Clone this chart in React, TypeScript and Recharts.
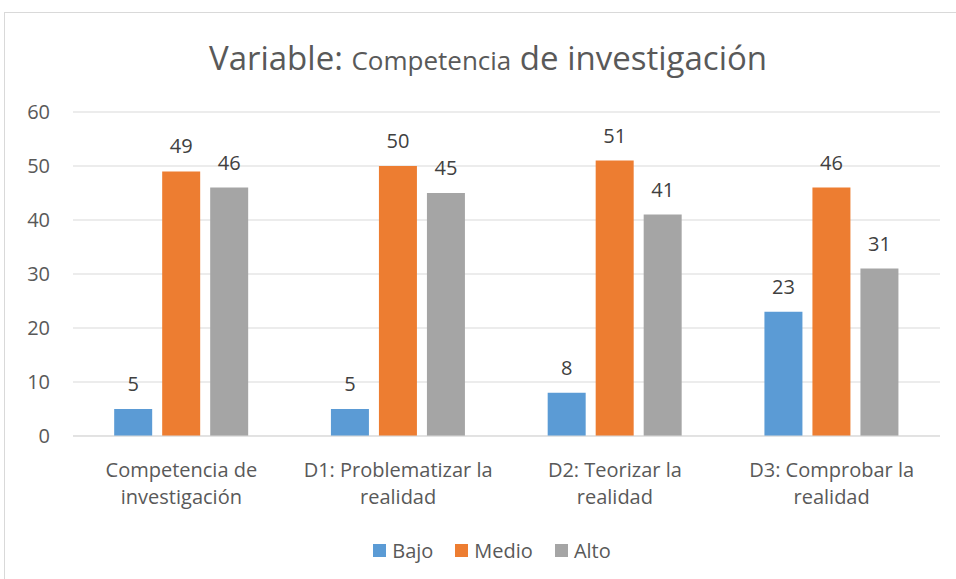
import React from "react";
import { BarChart, Bar, XAxis, YAxis, CartesianGrid, Legend, LabelList } from "recharts";

const categories = [
  ["Competencia de", "investigación"],
  ["D1: Problematizar la", "realidad"],
  ["D2: Teorizar la", "realidad"],
  ["D3: Comprobar la", "realidad"],
];
const bajo = [5, 5, 8, 23];
const medio = [49, 50, 51, 46];
const alto = [46, 45, 41, 31];
const yTicks = [0, 10, 20, 30, 40, 50, 60];
const seriesNames = ["Bajo", "Medio", "Alto"];
const seriesColors = ["#5B9BD5", "#ED7D31", "#A5A5A5"];

const data = categories.map((c, i) => ({
  name: c.join(" "),
  Bajo: bajo[i],
  Medio: medio[i],
  Alto: alto[i],
}));

const FONT = '"Open Sans", sans-serif';

function CategoryTick(props: any) {
  const { x, y, payload, index } = props;
  const lines = categories[index] ?? [payload.value];
  return (
    <text x={x} y={y} textAnchor="middle" fill="#595959" fontSize={20} fontFamily={FONT}>
      {lines.map((l: string, i: number) => (
        <tspan key={i} x={x} dy={i === 0 ? 33 : 27}>
          {l}
        </tspan>
      ))}
    </text>
  );
}

function LegendContent() {
  return (
    <div style={{ display: "flex", justifyContent: "center", gap: 22, height: 24, alignItems: "center", paddingLeft: 44 }}>
      {seriesNames.map((n, i) => (
        <span key={n} style={{ display: "flex", alignItems: "center", gap: 6, fontFamily: FONT, fontSize: 20, color: "#595959" }}>
          <span style={{ width: 13, height: 13, background: seriesColors[i], display: "inline-block" }} />
          {n}
        </span>
      ))}
    </div>
  );
}

export default function App() {
  return (
    <div style={{ position: "absolute", left: 0, top: 0, width: 956, height: 579, background: "#fff", overflow: "hidden" }}>
      <div style={{ position: "absolute", left: 4, top: 12, width: 980, height: 600, border: "1px solid #D9D9D9" }} />
      <div
        style={{
          position: "absolute",
          left: 0,
          width: 976,
          top: 35,
          textAlign: "center",
          fontFamily: FONT,
          color: "#595959",
          fontSize: 33,
        }}
      >
        Variable: <span style={{ fontSize: 26 }}>Competencia</span> de investigación
      </div>
      <div style={{ position: "absolute", left: 0, top: 0 }}>
        <BarChart
          width={956}
          height={579}
          data={data}
          margin={{ top: 112, right: 16, left: 0, bottom: 17 }}
          barCategoryGap="19%"
          barGap={10}
        >
          <CartesianGrid vertical={false} stroke="#D9D9D9" strokeWidth={1} />
          <XAxis
            dataKey="name"
            tick={<CategoryTick />}
            tickLine={false}
            axisLine={{ stroke: "#D9D9D9" }}
            height={102}
            interval={0}
          />
          <YAxis
            domain={[0, 60]}
            ticks={yTicks}
            tickLine={false}
            axisLine={false}
            width={73}
            tickMargin={17}
            tick={{ fill: "#595959", fontSize: 20, fontFamily: FONT }}
          />
          <Legend verticalAlign="bottom" content={<LegendContent />} />
          <Bar dataKey="Bajo" fill={seriesColors[0]} isAnimationActive={false}>
            <LabelList dataKey="Bajo" position="top" offset={18} fill="#404040" fontSize={20} fontFamily={FONT} />
          </Bar>
          <Bar dataKey="Medio" fill={seriesColors[1]} isAnimationActive={false}>
            <LabelList dataKey="Medio" position="top" offset={18} fill="#404040" fontSize={20} fontFamily={FONT} />
          </Bar>
          <Bar dataKey="Alto" fill={seriesColors[2]} isAnimationActive={false}>
            <LabelList dataKey="Alto" position="top" offset={18} fill="#404040" fontSize={20} fontFamily={FONT} />
          </Bar>
        </BarChart>
      </div>
    </div>
  );
}
